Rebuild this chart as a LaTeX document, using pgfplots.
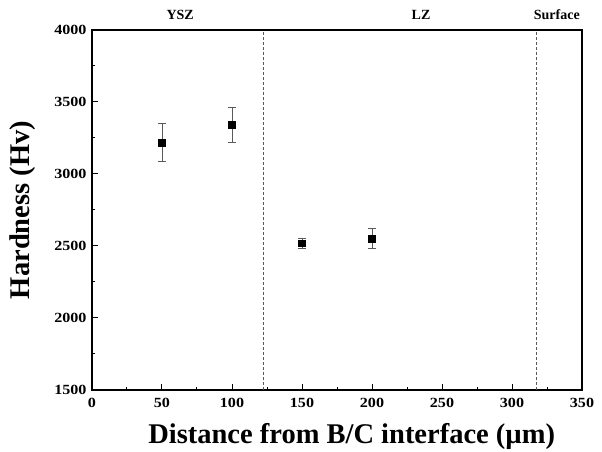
\documentclass[border=0pt]{standalone}
\usepackage{fontspec}
\setmainfont{Liberation Serif}
\newfontfamily\tickfont[FakeStretch=1.15]{Liberation Serif}
\usepackage{pgfplots}
\pgfplotsset{compat=1.18}

\begin{document}
\begin{tikzpicture}
  \begin{axis}[
      scale only axis,
      width=490pt,
      height=360pt,
      xmin=0, xmax=350,
      ymin=1500, ymax=4000,
      xtick={0,50,...,350},
      ytick={1500,2000,...,4000},
      minor x tick num=1,
      minor y tick num=1,
      tick align=inside,
      xtick pos=bottom,
      ytick pos=left,
      major tick length=6pt,
      minor tick length=3pt,
      axis line style={line width=1.2pt},
      tick style={line width=1pt, black},
      /pgf/number format/assume math mode=true,
      /pgf/number format/1000 sep={},
      ticklabel style={font=\tickfont\fontsize{14}{16}\selectfont\bfseries},
      xticklabel style={yshift=-5pt},
      yticklabel style={xshift=-2pt},
      xlabel={Distance from B/C interface (\textmu m)},
      ylabel={Hardness (Hv)},
      xlabel style={font=\fontsize{28.5}{32}\selectfont\bfseries,
        at={(axis description cs:0.53,-0.13)}, anchor=center},
      ylabel style={font=\fontsize{28.5}{32}\selectfont\bfseries,
        at={(axis description cs:-0.141,0.5)}, anchor=center},
      clip=false,
    ]
    % phase boundaries
    \addplot[densely dashed, gray!70!black, line width=0.6pt] coordinates {(122,1500) (122,4000)};
    \addplot[densely dashed, gray!70!black, line width=0.6pt] coordinates {(317.5,1500) (317.5,4000)};

    \addplot[only marks, mark=square*, mark size=3.4pt, black,
      error bars/.cd, y dir=both, y explicit,
      error bar style={gray!70!black, line width=0.7pt},
      error mark options={rotate=90, mark size=4pt, gray!70!black, line width=0.7pt}]
      coordinates {
        (50,3220) +- (0,133)
        (100,3340) +- (0,123)
        (150,2520) +- (0,36)
        (200,2553) +- (0,70)
      };

    \node[font=\fontsize{14}{16}\selectfont\bfseries, anchor=center] at (axis cs:63,4000) [yshift=15pt] {YSZ};
    \node[font=\fontsize{14}{16}\selectfont\bfseries, anchor=center] at (axis cs:235,4000) [yshift=15pt] {LZ};
    \node[font=\fontsize{14}{16}\selectfont\bfseries, anchor=center] at (axis cs:332,4000) [yshift=15pt] {Surface};

    \coordinate (bl) at (rel axis cs:0,0);
    \coordinate (tr) at (rel axis cs:1,1);
  \end{axis}
  \pgfresetboundingbox
  \path[use as bounding box] ([xshift=-92pt,yshift=-62pt]bl) rectangle ([xshift=20pt,yshift=30pt]tr);
\end{tikzpicture}
\end{document}
